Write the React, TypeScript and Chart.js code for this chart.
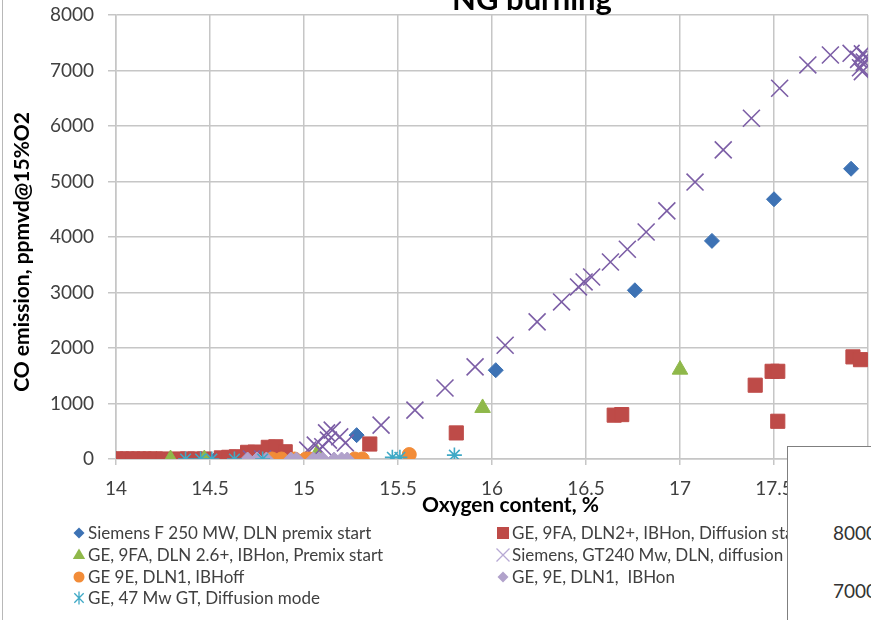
import React, { useEffect, useRef } from 'react';
import { Chart, registerables } from 'chart.js';

Chart.register(...registerables);

// ---------- data ----------
const chartTitle = 'NG burning';
const xTitle = 'Oxygen content, %';
const yTitle = 'CO emission, ppmvd@15%O2';
const xTickValues = [14, 14.5, 15, 15.5, 16, 16.5, 17, 17.5, 18];
const yTickValues = [0, 1000, 2000, 3000, 4000, 5000, 6000, 7000, 8000];
const insetLabels = ['8000', '7000'];

const siemensF_x = [14.0, 14.53, 15.28, 16.02, 16.76, 17.17, 17.5, 17.91];
const siemensF_y = [0, 0, 430, 1600, 3040, 3930, 4680, 5230];

const ge9faDiff_x = [14.0, 14.03, 14.06, 14.09, 14.12, 14.15, 14.18, 14.21, 14.25, 14.33, 14.38, 14.42, 14.47, 14.56, 14.6, 14.64, 14.7, 14.74, 14.81, 14.85, 14.9, 15.35, 15.81, 16.65, 16.69, 17.4, 17.49, 17.52, 17.52, 17.92, 17.96];
const ge9faDiff_y = [0, 0, 0, 0, 0, 0, 0, 0, 0, 0, 0, 0, 0, 20, 30, 40, 120, 125, 210, 220, 130, 270, 470, 790, 800, 1330, 1580, 1580, 680, 1840, 1790];

const ge9faPremix_x = [14.29, 14.47, 15.07, 15.95, 17.0];
const ge9faPremix_y = [0, 0, 100, 920, 1610];

const siemensGT240_x = [14.72, 14.78, 15.02, 15.06, 15.1, 15.12, 15.13, 15.15, 15.19, 15.22, 15.41, 15.59, 15.75, 15.91, 16.07, 16.24, 16.37, 16.46, 16.49, 16.53, 16.63, 16.72, 16.82, 16.93, 17.08, 17.23, 17.38, 17.53, 17.68, 17.8, 17.91, 17.95, 17.96, 17.97, 17.98, 17.99, 18.0, 17.97];
const siemensGT240_y = [0, 0, 160, 250, 220, 470, 340, 520, 400, 290, 610, 880, 1280, 1660, 2050, 2470, 2830, 3100, 3190, 3280, 3550, 3780, 4090, 4470, 4990, 5570, 6140, 6680, 7100, 7280, 7310, 7200, 7050, 6980, 7150, 7250, 7200, 7300];

const ge9eOff_x = [14.83, 14.88, 14.95, 15.01, 15.03, 15.27, 15.31, 15.56];
const ge9eOff_y = [0, 0, 0, 0, 0, 0, 0, 80];

const ge9eOn_x = [14.7, 14.75, 14.8, 14.93, 14.96, 15.05, 15.08, 15.1, 15.16, 15.2, 15.23];
const ge9eOn_y = [0, 0, 0, 0, 0, 0, 0, 0, 0, 0, 0];

const ge47_x = [14.37, 14.45, 14.51, 14.63, 14.78, 15.47, 15.51, 15.8];
const ge47_y = [0, 0, 0, 0, 0, 30, 30, 70];

const seriesNames = [
  'Siemens F 250 MW, DLN premix start',
  'GE, 9FA, DLN2+, IBHon, Diffusion start',
  'GE, 9FA, DLN 2.6+, IBHon, Premix start',
  'Siemens, GT240 Mw, DLN, diffusion start',
  'GE 9E, DLN1, IBHoff',
  'GE, 9E, DLN1,  IBHon',
  'GE, 47 Mw GT, Diffusion mode',
];

// ---------- styles ----------
const FONT = 'Lato';
const GRID = '#c6c6c6';
const TEXT = '#404040';

const styles = [
  { color: '#3d72b4', style: 'rectRot', radius: 7.5, bw: 1, fill: true },
  { color: '#be4b48', style: 'rect', radius: 10, bw: 1, fill: true },
  { color: '#8fb84a', style: 'triangle', radius: 9, bw: 1, fill: true },
  { color: '#7c5ea6', style: 'crossRot', radius: 12, bw: 1.6, fill: false },
  { color: '#f28c38', style: 'circle', radius: 7, bw: 1, fill: true },
  { color: '#b1a2cb', style: 'rectRot', radius: 7, bw: 1, fill: true },
  { color: '#3fa9c6', style: 'star', radius: 7.5, bw: 1.6, fill: false },
];

const legendColors = ['#3d72b4', '#be4b48', '#8fb84a', '#b7a9d4', '#f28c38', '#b1a2cb', '#3fa9c6'];

function zip(xs: number[], ys: number[]) {
  return xs.map((x, i) => ({ x, y: ys[i] }));
}

const seriesData = [
  zip(siemensF_x, siemensF_y),
  zip(ge9faDiff_x, ge9faDiff_y),
  zip(ge9faPremix_x, ge9faPremix_y),
  zip(siemensGT240_x, siemensGT240_y),
  zip(ge9eOff_x, ge9eOff_y),
  zip(ge9eOn_x, ge9eOn_y),
  zip(ge47_x, ge47_y),
];

function drawMarker(ctx: CanvasRenderingContext2D, kind: number, x: number, y: number) {
  const c = legendColors[kind];
  ctx.save();
  ctx.fillStyle = c;
  ctx.strokeStyle = c;
  ctx.lineWidth = 1.3;
  ctx.beginPath();
  switch (kind) {
    case 0:
    case 5: {
      const r = 5.5;
      ctx.moveTo(x, y - r);
      ctx.lineTo(x + r, y);
      ctx.lineTo(x, y + r);
      ctx.lineTo(x - r, y);
      ctx.closePath();
      ctx.fill();
      break;
    }
    case 1:
      ctx.fillRect(x - 6, y - 6, 12, 12);
      break;
    case 2: {
      const r = 6.5;
      ctx.moveTo(x, y - r);
      ctx.lineTo(x + r * 0.95, y + r * 0.6);
      ctx.lineTo(x - r * 0.95, y + r * 0.6);
      ctx.closePath();
      ctx.fill();
      break;
    }
    case 3: {
      const r = 6.5;
      ctx.moveTo(x - r, y - r);
      ctx.lineTo(x + r, y + r);
      ctx.moveTo(x + r, y - r);
      ctx.lineTo(x - r, y + r);
      ctx.stroke();
      break;
    }
    case 4:
      ctx.arc(x, y, 5.5, 0, Math.PI * 2);
      ctx.fill();
      break;
    case 6: {
      const r = 6.5;
      const d = r * 0.72;
      ctx.moveTo(x, y - r);
      ctx.lineTo(x, y + r);
      ctx.moveTo(x - d, y - d);
      ctx.lineTo(x + d, y + d);
      ctx.moveTo(x + d, y - d);
      ctx.lineTo(x - d, y + d);
      ctx.stroke();
      break;
    }
  }
  ctx.restore();
}

const legendPos = [
  { mx: 79, tx: 88, y: 533 },
  { mx: 503, tx: 512, y: 533 },
  { mx: 79, tx: 88, y: 555 },
  { mx: 503, tx: 512, y: 555 },
  { mx: 79, tx: 88, y: 577 },
  { mx: 503, tx: 512, y: 577 },
  { mx: 79, tx: 88, y: 598 },
];

const textPlugin = {
  id: 'textPlugin',
  afterDraw(chart: any) {
    const ctx: CanvasRenderingContext2D = chart.ctx;
    ctx.save();
    // title
    ctx.fillStyle = '#000';
    ctx.font = `bold 31px ${FONT}`;
    ctx.textAlign = 'center';
    ctx.textBaseline = 'alphabetic';
    ctx.fillText(chartTitle, 532, 10);
    // x title
    ctx.font = `bold 21px ${FONT}`;
    ctx.textAlign = 'left';
    ctx.fillText(xTitle, 422, 512);
    // y title
    ctx.save();
    ctx.translate(29, 112);
    ctx.rotate(-Math.PI / 2);
    ctx.textAlign = 'right';
    ctx.textBaseline = 'alphabetic';
    ctx.fillText(yTitle, 0, 0);
    ctx.restore();
    // legend
    ctx.font = `17px ${FONT}`;
    ctx.textAlign = 'left';
    ctx.textBaseline = 'middle';
    seriesNames.forEach((name, i) => {
      const p = legendPos[i];
      drawMarker(ctx, i, p.mx, p.y);
      ctx.fillStyle = TEXT;
      ctx.fillText(name, p.tx, p.y + 1);
    });
    ctx.restore();
  },
};

export default function App() {
  const ref = useRef<HTMLCanvasElement>(null);
  useEffect(() => {
    if (!ref.current) return;
    const datasets = seriesData.map((data, i) => {
      const s = styles[i];
      return {
        label: seriesNames[i],
        data,
        pointStyle: s.style as any,
        pointRadius: s.radius,
        pointHoverRadius: s.radius,
        pointBackgroundColor: s.fill ? s.color : 'rgba(0,0,0,0)',
        pointBorderColor: s.color,
        pointBorderWidth: s.bw,
        showLine: false,
        order: 7 - i,
      };
    });
    const chart = new Chart(ref.current, {
      type: 'scatter',
      data: { datasets },
      options: {
        responsive: false,
        animation: false,
        devicePixelRatio: 1,
        layout: { autoPadding: false, padding: { left: 0, right: 3, top: 15, bottom: 0 } },
        plugins: {
          legend: { display: false },
          title: { display: false },
          tooltip: { enabled: false },
        },
        scales: {
          x: {
            type: 'linear',
            min: 14,
            max: 18,
            afterBuildTicks: (s: any) => {
              s.ticks = xTickValues.map((v) => ({ value: v }));
            },
            ticks: {
              font: { family: FONT, size: 19 },
              color: TEXT,
              padding: 12,
              maxRotation: 0,
              autoSkip: false,
              callback: (v: any) => String(v),
            },
            grid: { color: GRID, lineWidth: 1.5, tickLength: 6 },
            border: { color: GRID, width: 1.5 },
            afterFit: (s: any) => {
              s.height = 161;
              s.paddingLeft = 0;
              s.paddingRight = 0;
            },
          },
          y: {
            type: 'linear',
            min: 0,
            max: 8000,
            afterBuildTicks: (s: any) => {
              s.ticks = yTickValues.map((v) => ({ value: v }));
            },
            ticks: {
              font: { family: FONT, size: 19 },
              color: TEXT,
              padding: 14,
              callback: (v: any) => String(v),
            },
            grid: { color: GRID, lineWidth: 1.5, tickLength: 8 },
            border: { color: GRID, width: 1.5 },
            afterFit: (s: any) => {
              s.width = 116;
              s.paddingTop = 0;
              s.paddingBottom = 0;
            },
          },
        },
      },
      plugins: [textPlugin],
    });
    return () => chart.destroy();
  }, []);

  return (
    <div
      style={{
        position: 'absolute',
        left: 0,
        top: 0,
        width: 871,
        height: 620,
        overflow: 'hidden',
        background: '#fff',
      }}
    >
      <canvas
        ref={ref}
        width={871}
        height={620}
        style={{ position: 'absolute', left: 0, top: 0, width: 871, height: 620 }}
      />
      <div style={{ position: 'absolute', left: 2, top: 0, width: 1, height: 620, background: '#b8b8b8' }} />
      <div
        style={{
          position: 'absolute',
          left: 787,
          top: 446,
          width: 120,
          height: 200,
          background: '#fff',
          borderLeft: '1px solid #7f7f7f',
          borderTop: '1px solid #7f7f7f',
          fontFamily: FONT,
          fontSize: 19,
          lineHeight: '19px',
          color: '#333',
        }}
      >
        <div style={{ position: 'absolute', left: 45, top: 76, whiteSpace: 'nowrap' }}>{insetLabels[0]}</div>
        <div style={{ position: 'absolute', left: 45, top: 134, whiteSpace: 'nowrap' }}>{insetLabels[1]}</div>
      </div>
    </div>
  );
}
